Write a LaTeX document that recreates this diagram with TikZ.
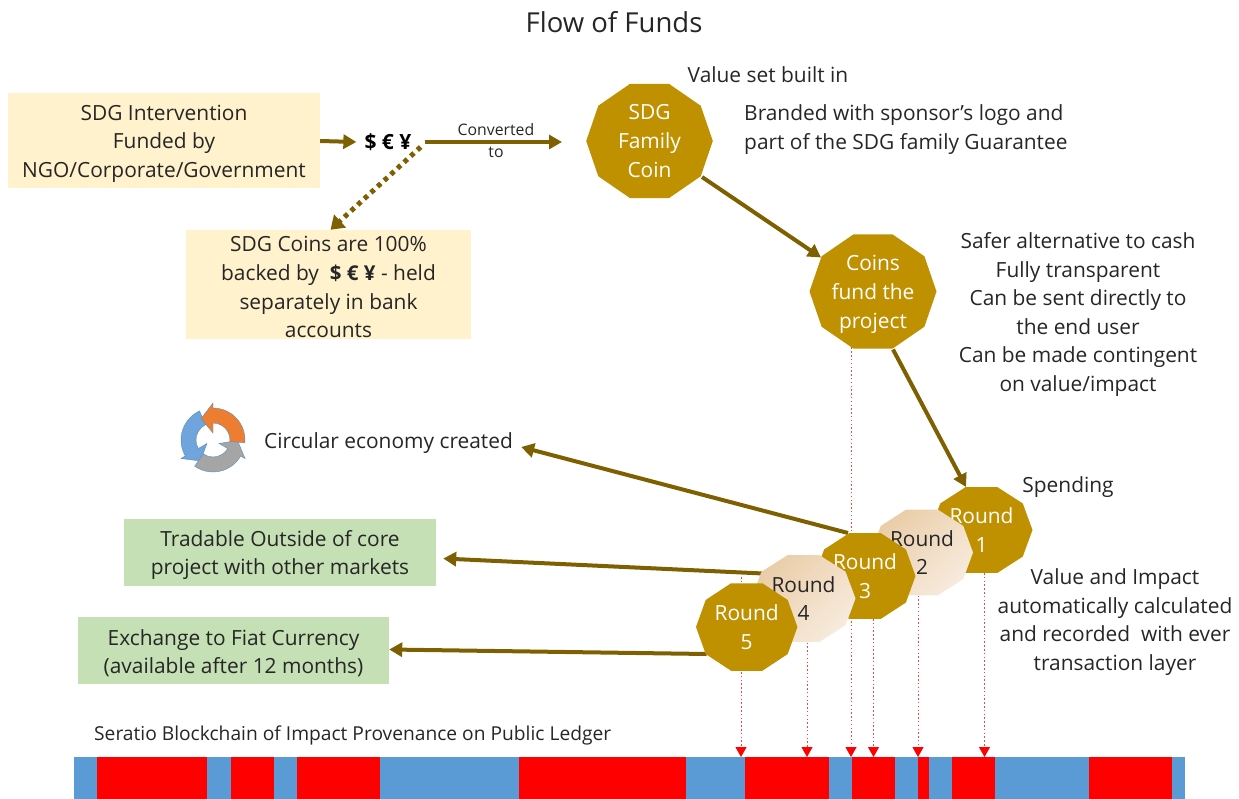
\documentclass[tikz,border=0pt]{standalone}
\usepackage{fontspec}
\setmainfont{Open Sans}
\usetikzlibrary{arrows.meta,calc,backgrounds,shapes.geometric}
\definecolor{gold}{HTML}{BF9000}
\definecolor{brownline}{HTML}{7F6000}
\definecolor{cream}{HTML}{FFF2CC}
\definecolor{greenbox}{HTML}{C5E0B4}
\definecolor{barblue}{HTML}{5B9BD5}
\definecolor{ink}{HTML}{262626}
\definecolor{paleA}{HTML}{EACDA8}
\definecolor{paleB}{HTML}{F7EBDD}
\definecolor{iconblue}{HTML}{6FA5DC}
\definecolor{icongray}{HTML}{A5A5A5}
\definecolor{iconorange}{HTML}{ED7D31}
\definecolor{iconedge}{HTML}{5B8DBF}
\definecolor{dotred}{HTML}{FF4040}
\newcommand{\lift}{\rule{0pt}{21pt}}
\tikzset{
  txt/.style={text=ink,inner sep=0pt,align=center,font=\fontsize{20.9}{28.6}\selectfont},
  boxcream/.style={txt,fill=cream,minimum width=#1},
  boxgreen/.style={txt,fill=greenbox,minimum width=#1},
  flow/.style={draw=brownline,line width=4pt,-{Triangle[length=13pt,width=14pt]}},
  flowdot/.style={draw=brownline,line width=5pt,dash pattern=on 4.5pt off 4.5pt,-{Triangle[length=13pt,width=17pt]}},
  audit/.style={draw=dotred,line width=1pt,dash pattern=on 1.5pt off 2.3pt,-{Triangle[length=10pt,width=11pt,color=red,fill=red]}},
  coinsolid/.style={fill=gold},
  coinpale/.style={top color=paleA,bottom color=paleB,shading angle=45},
  redblock/.style={fill=red},
}
\newcommand{\coinshape}[7]{%
  \path[#6] (#2,#3) +(0:#4pt and #5pt) -- +(36:#4pt and #5pt) -- +(72:#4pt and #5pt) -- +(108:#4pt and #5pt)
    -- +(144:#4pt and #5pt) -- +(180:#4pt and #5pt) -- +(216:#4pt and #5pt) -- +(252:#4pt and #5pt)
    -- +(288:#4pt and #5pt) -- +(324:#4pt and #5pt) -- cycle;
  \node[txt,#7] (#1) at (#2,#3)}
\newcommand{\cyclearrow}[2]{%
  \begin{scope}[rotate=#1]
    \path[fill=#2,draw=iconedge,line width=.4pt]
      (-5:32) arc[start angle=-5,end angle=90,radius=32] -- (90:37) -- (119:24.5) -- (90:7) -- (90:17)
      arc[start angle=90,end angle=-5,radius=17] -- cycle;
  \end{scope}}
\begin{document}
\begin{tikzpicture}[x=1pt,y=-1pt]
\useasboundingbox (0,0) rectangle (1239,799);
\node[txt,font=\fontsize{27.5}{30}\selectfont] (title) at (614,22) {Flow of Funds};

\node[boxcream=312pt,minimum height=95pt] (fund) at (164,141) {\lift SDG Intervention\\Funded by\\NGO/Corporate/Government};
\node[txt,font=\fontsize{21}{24}\selectfont\bfseries,text=black] (cash) at (388,142) {\$ € ¥};
\node[boxcream=285pt,minimum height=109pt] (backed) at (328.5,284.5) {\lift SDG Coins are 100\%\\backed by\ \ {\bfseries\fontsize{20.5}{24}\selectfont \$ € ¥} - held\\separately in bank\\accounts};
\node[txt,font=\fontsize{15.8}{18}\selectfont] (convtop) at (496,130) {Converted};
\node[txt,font=\fontsize{15.8}{18}\selectfont] (convbot) at (496,152) {to};

\coinshape{coinA}{649.5}{141}{63.3}{60}{coinsolid}{text=white}{SDG\\Family\\Coin};
\coinshape{coinB}{873}{291.5}{63.5}{60}{coinsolid}{text=white}{\lift Coins\\fund the\\project};

\node[txt] (valueset) at (768,75) {Value set built in};
\node[txt,align=left,anchor=west] (branded) at (744,129.5) {Branded with sponsor’s logo and\\part of the SDG family Guarantee};
\node[txt] (safer) at (1078,314.5) {Safer alternative to cash\\Fully transparent\\Can be sent directly to\\the end user\\Can be made contingent\\on value/impact};
\node[txt] (spending) at (1068,487) {Spending};
\node[txt] (vi) at (1115,622) {Value and Impact\\automatically calculated\\and recorded\ \ with ever\\transaction layer};
\node[txt,anchor=west] (circular) at (264,443) {Circular economy created};
\node[boxgreen=312pt,minimum height=67pt] (trade) at (280,552.5) {\lift Tradable Outside of core\\project with other markets};
\node[boxgreen=311pt,minimum height=67pt] (fiat) at (233.5,650.5) {\lift Exchange to Fiat Currency\\(available after 12 months)};
\node[txt,anchor=west,font=\fontsize{19.2}{22}\selectfont] (seratio) at (94,735.5) {Seratio Blockchain of Impact Provenance on Public Ledger};

% circular icon
\begin{scope}[shift={(213,440)},x=1pt,y=1pt]
  \cyclearrow{120}{iconblue}
  \cyclearrow{240}{icongray}
  \cyclearrow{0}{iconorange}
\end{scope}

% rounds (each covers the one before)
\coinshape{r1}{981.5}{530}{51}{45.2}{coinsolid}{text=white}{Round\\1};
\coinshape{r2}{922}{552.5}{51}{45.2}{coinpale}{}{Round\\2};
\coinshape{r3}{865}{576}{50.5}{45.2}{coinsolid}{text=white}{Round\\3};
\coinshape{r4}{803.5}{598.5}{52}{45.5}{coinpale}{}{Round\\4};
\coinshape{r5}{746.7}{627}{50.7}{46}{coinsolid}{text=white}{Round\\5};

% bar
\fill[barblue] (74,757) rectangle (1185,799);
\foreach \a/\b in {97/207,231/274,297/380,519/686,745/829,852/895,918/929,952/995,1089/1172}
  \fill[redblock] (\a,757) rectangle (\b,799);
\coordinate (b5) at (741,757);
\coordinate (b4) at (807,757);
\coordinate (bB) at (851,757);
\coordinate (b3) at (873.5,757);
\coordinate (b2) at (918,757);
\coordinate (b1) at (984.5,757);

\begin{scope}[on background layer]
  \draw[flow] (fund.east) -- ($(cash.west)+(-8,0)$);
  \draw[flow] ($(cash.east)+(13,0)$) -- ($(coinA.center)+(-87.5,1)$);
  \draw[flowdot] ($(cash.east)+(9,5)$) -- ($(backed.north)+(2,0)$);
  \draw[flow] ($(coinA)+(52.5,36)$) -- ($(coinB)+(-52,-34)$);
  \draw[flow] ($(coinB)+(20,58)$) -- ($(r1)+(-15.5,-43)$);
  \draw[flow] ($(r3)+(-17,-43)$) -- ($(circular.east)+(8,4)$);
  \draw[flow] ($(r4)+(-40.5,-25)$) -- ($(trade.east)+(7,6)$);
  \draw[flow] ($(r5)+(-40,27)$) -- ($(fiat.east)+(0,-1)$);
  \draw[audit] ($(r1)+(3,43)$) -- (b1);
  \draw[audit] ($(r2)+(-4,43)$) -- (b2);
  \draw[audit] ($(r3)+(8.5,43)$) -- (b3);
  \draw[audit] ($(r4)+(3.5,44)$) -- (b4);
  \draw[audit] ($(r5)+(-5.7,-50)$) -- (b5);
  \draw[audit] ($(coinB)+(-22,56)$) -- (bB);
\end{scope}
\end{tikzpicture}
\end{document}
